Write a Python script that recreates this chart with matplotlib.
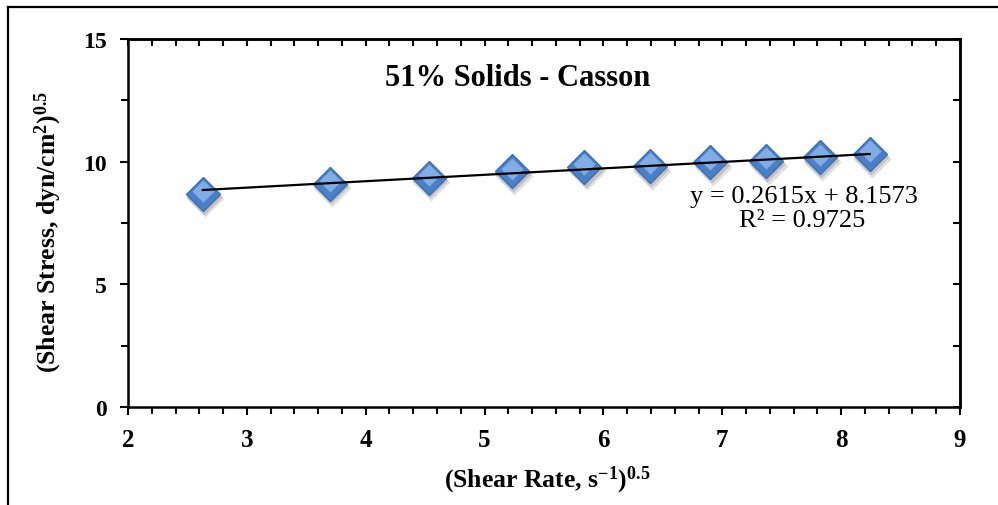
import numpy as np
import matplotlib
matplotlib.use("Agg")
import matplotlib.pyplot as plt
from matplotlib.lines import Line2D
from matplotlib.ticker import MultipleLocator

# ---- data ----
shear_rate_sqrt = [2.63, 3.70, 4.53, 5.23, 5.84, 6.39, 6.90, 7.37, 7.82, 8.24]
shear_stress_sqrt = [8.68, 9.10, 9.34, 9.60, 9.78, 9.81, 9.97, 10.01, 10.17, 10.30]
fit_slope = 0.2615
fit_intercept = 8.1573
fit_r2 = 0.9725
title_text = "51% Solids - Casson"
x_ticks = [2, 3, 4, 5, 6, 7, 8, 9]
y_ticks = [0, 5, 10, 15]

plt.rcParams['font.family'] = ['Liberation Serif', 'DejaVu Serif']
plt.rcParams['mathtext.fontset'] = 'custom'
plt.rcParams['mathtext.rm'] = 'Liberation Serif:bold'
plt.rcParams['mathtext.it'] = 'Liberation Serif:bold'
plt.rcParams['mathtext.bf'] = 'Liberation Serif:bold'

W, H = 998, 506
fig = plt.figure(figsize=(W/100, H/100), dpi=100)
ax = fig.add_axes([128/W, 1-408/H, (960-128)/W, (408-40)/H])

x = np.array(shear_rate_sqrt)
y = np.array(shear_stress_sqrt)

# trend line
xl = np.array([x.min(), x.max()])
ax.plot(xl, fit_slope*xl + fit_intercept, color='black', lw=1.6, zorder=5)

# markers: soft shadow, body, highlight
ax.plot(x + 0.02, y - 0.18, 'D', ms=19, color='#555555', alpha=0.18, mec='none', zorder=2)
ax.plot(x + 0.01, y - 0.10, 'D', ms=18, color='#555555', alpha=0.22, mec='none', zorder=2)
ax.plot(x, y, 'D', ms=17.5, mfc='#4a80c8', mec='#3d6fb3', mew=1.0, zorder=3)
ax.plot(x, y + 0.12, 'D', ms=11, mfc='#8db6ea', mec='none', alpha=0.85, zorder=4)

ax.set_xlim(2, 9)
ax.set_ylim(0, 15)
ax.set_xticks(x_ticks)
ax.set_yticks(y_ticks)
ax.xaxis.set_minor_locator(MultipleLocator(0.2))
ax.yaxis.set_minor_locator(MultipleLocator(2.5))
ax.tick_params(axis='both', which='major', direction='out', length=6, width=1.5)
ax.tick_params(axis='both', which='minor', direction='out', length=5, width=1.5)
ax.tick_params(axis='x', labelsize=18, pad=9)
ax.tick_params(axis='y', labelsize=17, pad=9)
for lab in ax.get_xticklabels() + ax.get_yticklabels():
    lab.set_fontweight('bold')
for s in ax.spines.values():
    s.set_linewidth(1.8)

# top / right ticks pointing inward
secx = ax.secondary_xaxis('top')
secx.set_xticks(x_ticks)
secx.xaxis.set_minor_locator(MultipleLocator(0.2))
secx.tick_params(which='both', direction='in', length=5, width=1.5, labeltop=False)
secx.spines['top'].set_linewidth(1.8)
secy = ax.secondary_yaxis('right')
secy.set_yticks(y_ticks)
secy.yaxis.set_minor_locator(MultipleLocator(2.5))
secy.tick_params(which='both', direction='in', length=5, width=1.5, labelright=False)
secy.spines['right'].set_linewidth(1.8)

# axis labels
fig.text(547/W, 1-480/H, r"(Shear Rate, s$^{-1}$)$^{0.5}$", fontsize=18.5, fontweight='bold',
         ha='center', va='center')
fig.text(48/W, 1-232/H, r"(Shear Stress, dyn/cm$^{2}$)$^{0.5}$", fontsize=18.5,
         fontweight='bold', ha='center', va='center', rotation=90)

# title and fit annotation
fig.text(518/W, 1-78/H, title_text, ha='center', va='center', fontsize=22, fontweight='bold')
fig.text(804/W, 1-197/H, f"y = {fit_slope}x + {fit_intercept}", ha='center', va='center',
         fontsize=19)
fig.text(802/W, 1-221/H, f"R\u00b2 = {fit_r2}", ha='center', va='center', fontsize=19)

# outer frame lines (top and left)
fig.add_artist(Line2D([8/W, 1], [1-8/H, 1-8/H], transform=fig.transFigure,
                      color='black', lw=1.6))
fig.add_artist(Line2D([8/W, 8/W], [0, 1-8/H], transform=fig.transFigure,
                      color='black', lw=1.6))

fig.savefig("out.png", dpi=100)
